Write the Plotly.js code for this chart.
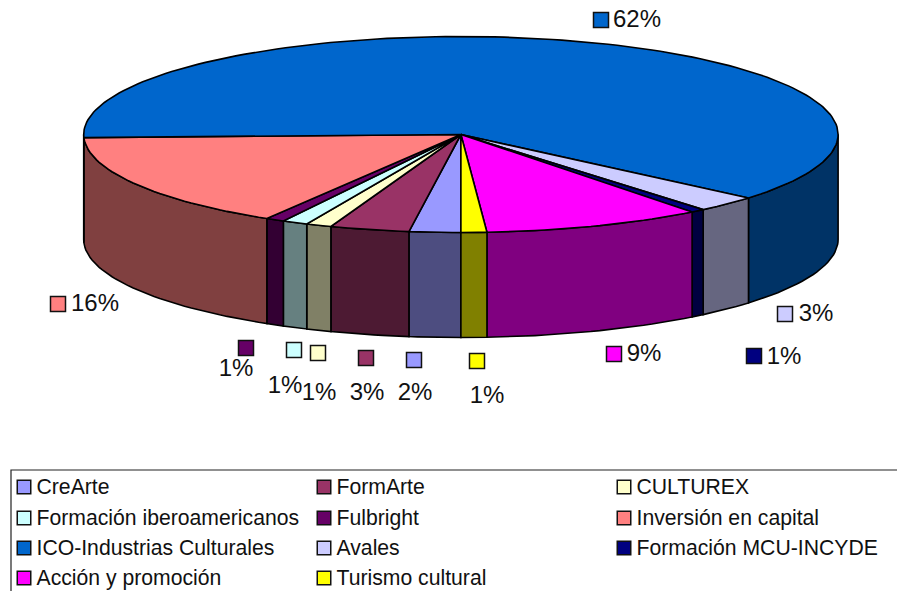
<!DOCTYPE html>
<html>
<head>
<meta charset="utf-8">
<script src="https://cdn.plot.ly/plotly-3.0.1.min.js"></script>
<style>html,body{margin:0;padding:0;background:#fff}#c{width:897px;height:591px}</style>
</head>
<body>
<div id="c"></div>
<script>
// Data, clockwise from the bottom of the pie
const categories = ['CreArte','FormArte','CULTUREX','Formación iberoamericanos','Fulbright','Inversión en capital','ICO-Industrias Culturales','Avales','Formación MCU-INCYDE','Acción y promoción','Turismo cultural'];
const shares = [2.2,3.4,1.1,1.1,0.8,15.9,61.7,2.7,0.6,9.4,1.1];
const colors = ['#9999FF','#993366','#FFFFCC','#CCFFFF','#660066','#FF8080','#0066CC','#CCCCFF','#000080','#FF00FF','#FFFF00'];

// Layout (axes are set up in page pixels)
const labelKeyX = [414,366,318,294,246,58,601,785,754,614,477];
const labelKeyY = [360,358,353,350,348,304,20,314,356,354,361];
const labelTextX = [415,367,319,285,236,95,637,816,784,644,487];
const labelTextY = [394,394,394,387,370,305,21,315,358,355,397];
const cx = 460.9, cy = 134.5, rx = 377.2, ry = 98, depth = 105;

const total = shares.reduce((a,b)=>a+b,0);
const rad = d => d*Math.PI/180;
const px = d => cx - rx*Math.sin(rad(d));
const py = d => cy + ry*Math.cos(rad(d));
function arc(a,b){ const n=Math.max(2,Math.ceil(Math.abs(b-a)/1.5)), o=[]; for(let i=0;i<=n;i++) o.push(a+(b-a)*i/n); return o; }
function half(hex){ const v=[1,3,5].map(i=>Math.round(parseInt(hex.substr(i,2),16)/2)); return `rgb(${v.join(',')})`; }

let cum=0; const spans=shares.map(s=>{const a=cum/total*360; cum+=s; return [a,cum/total*360];});
const traces=[];
const outline={color:'#000',width:1.6};

// Side walls
spans.forEach(([a,b],i)=>{
  [[0,90],[270,360]].forEach(([lo,hi])=>{
    const s=Math.max(a,lo), e=Math.min(b,hi);
    if(e<=s) return;
    const t=arc(s,e), r=t.slice().reverse();
    traces.push({type:'scatter',mode:'lines',fill:'toself',fillcolor:half(colors[i]),line:outline,name:categories[i],hoverinfo:'name',
      x:t.map(px).concat(r.map(px),[px(s)]),
      y:t.map(py).concat(r.map(d=>py(d)+depth),[py(s)])});
  });
});
// Top faces
spans.forEach(([a,b],i)=>{
  const t=arc(a,b);
  traces.push({type:'scatter',mode:'lines',fill:'toself',fillcolor:colors[i],line:outline,name:categories[i],hoverinfo:'name',
    x:[cx].concat(t.map(px),[cx]),
    y:[cy].concat(t.map(py),[cy])});
});
// Data label keys and texts
traces.push({type:'scatter',mode:'markers',x:labelKeyX,y:labelKeyY,hoverinfo:'skip',
  marker:{symbol:'square',size:15,color:colors,line:{color:'#111',width:1.5}}});
traces.push({type:'scatter',mode:'text',x:labelTextX,y:labelTextY,hoverinfo:'skip',
  text:shares.map(s=>Math.round(s)+'%'),textposition:'middle center',
  textfont:{family:'Liberation Sans, Arial, sans-serif',size:24,color:'#111'}});
// Legend
const legendColX=[24,324,624], legendRowY=[487,518,548,578];
const lx=categories.map((_,i)=>legendColX[i%3]), ly=categories.map((_,i)=>legendRowY[Math.floor(i/3)]);
traces.push({type:'scatter',mode:'markers',x:lx,y:ly,hoverinfo:'skip',
  marker:{symbol:'square',size:13.5,color:colors,line:{color:'#111',width:1.5}}});
traces.push({type:'scatter',mode:'text',x:lx.map(v=>v+12.5),y:ly.map(v=>v+1.5),hoverinfo:'skip',
  text:categories,textposition:'middle right',
  textfont:{family:'Liberation Sans, Arial, sans-serif',size:21.2,color:'#111'}});

const hidden={visible:false,fixedrange:true};
Plotly.newPlot('c',traces,{
  width:897,height:591,margin:{l:0,r:0,t:0,b:0},showlegend:false,
  paper_bgcolor:'#fff',plot_bgcolor:'#fff',
  xaxis:Object.assign({},hidden,{range:[0,897]}),
  yaxis:Object.assign({},hidden,{range:[591,0]}),
  shapes:[{type:'rect',xref:'x',yref:'y',x0:11,x1:930,y0:470,y1:620,line:{color:'#222',width:1.2},fillcolor:'rgba(0,0,0,0)',layer:'below'}]
},{displayModeBar:false,staticPlot:true});
</script>
</body>
</html>
